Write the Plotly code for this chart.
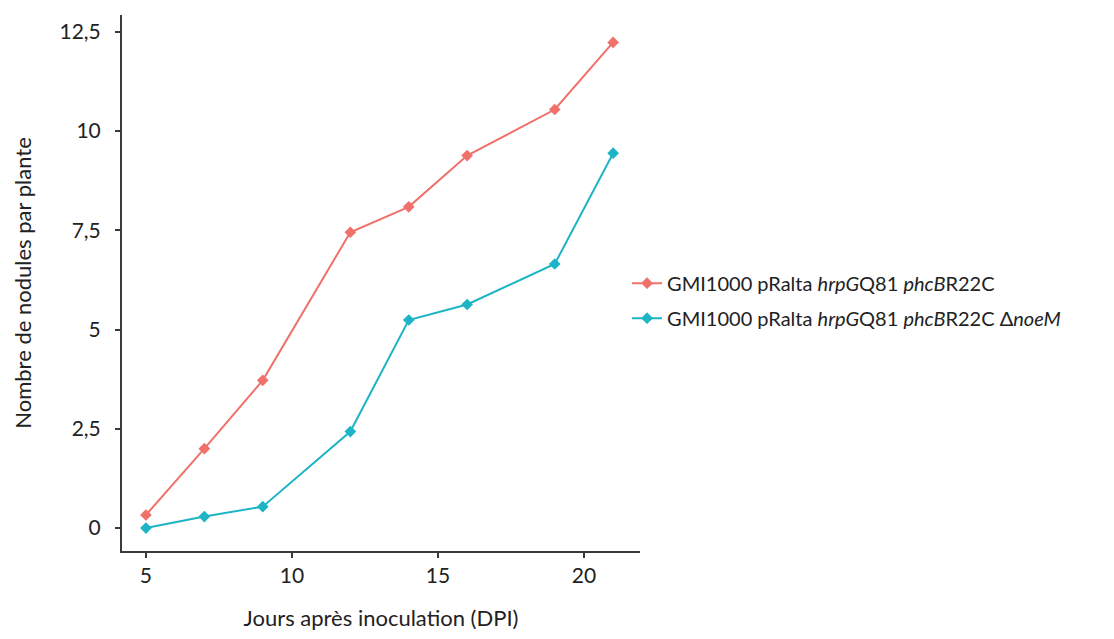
import plotly.graph_objects as go

# Days after inoculation
dpi = [5, 7, 9, 12, 14, 16, 19, 21]

# Mean nodules per plant for each strain
nod_phcB = [0.33, 2.0, 3.72, 7.45, 8.09, 9.38, 10.54, 12.23]
nod_phcB_noeM = [0.0, 0.29, 0.54, 2.43, 5.24, 5.63, 6.65, 9.44]

series_names = [
    "GMI1000 pRalta <i>hrpG</i>Q81 <i>phcB</i>R22C",
    "GMI1000 pRalta <i>hrpG</i>Q81 <i>phcB</i>R22C Δ<i>noeM</i>",
]
series_colors = ["#F0706A", "#1DB4C6"]

y_tickvals = [0, 2.5, 5, 7.5, 10, 12.5]
y_ticktext = ["0", "2,5", "5", "7,5", "10", "12,5"]
x_tickvals = [5, 10, 15, 20]

font_family = "Lato, 'Open Sans', sans-serif"
axis_color = "#3a3a3a"

fig = go.Figure()
for name, ys, col in zip(series_names, [nod_phcB, nod_phcB_noeM], series_colors):
    fig.add_trace(go.Scatter(
        x=dpi, y=ys, name=name, legendgroup=name,
        mode="lines+markers",
        line=dict(color=col, width=2),
        marker=dict(symbol="diamond", size=9, color=col),
    ))

fig.update_layout(
    width=1114, height=639,
    paper_bgcolor="white", plot_bgcolor="white",
    margin=dict(l=122, r=474, t=15, b=86),
    font=dict(family=font_family, size=21, color="#222222"),
    showlegend=True,
    legend=dict(
        x=0.975, y=0.467, xanchor="left", yanchor="middle",
        font=dict(size=20, color="#222222"),
        tracegroupgap=6,
        bgcolor="rgba(0,0,0,0)",
    ),
)

fig.update_xaxes(
    range=[4.18, 21.92],
    tickvals=x_tickvals,
    ticks="outside", ticklen=5, tickwidth=1.5, tickcolor=axis_color,
    showline=True, linecolor=axis_color, linewidth=2,
    showgrid=False, zeroline=False,
    tickfont=dict(size=21),
    title=dict(text="Jours après inoculation (DPI)", font=dict(size=22), standoff=24),
)
fig.update_yaxes(
    range=[-0.577, 12.92],
    tickvals=y_tickvals, ticktext=y_ticktext,
    ticks="outside", ticklen=5, tickwidth=1.5, tickcolor=axis_color,
    ticklabelstandoff=10,
    showline=True, linecolor=axis_color, linewidth=2,
    showgrid=False, zeroline=False,
    tickfont=dict(size=21),
    title=dict(text="Nombre de nodules par plante", font=dict(size=22), standoff=22),
)

fig.write_html("out.html")
